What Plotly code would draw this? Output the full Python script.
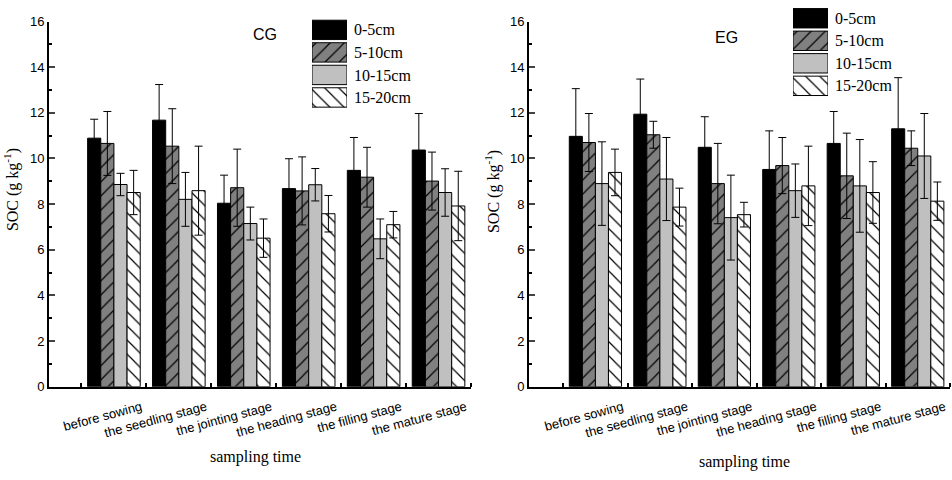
import plotly.graph_objects as go

stages = ["before sowing", "the seedling stage", "the jointing stage",
          "the heading stage", "the filling stage", "the mature stage"]
stage_pos = [1.5, 2.5, 3.5, 4.5, 5.5, 6.5]
depths = ["0-5cm", "5-10cm", "10-15cm", "15-20cm"]

# CG panel: means and errors per depth
cg_0_5 = [10.89, 11.68, 8.04, 8.68, 9.48, 10.37]
cg_5_10 = [10.66, 10.54, 8.72, 8.58, 9.18, 9.01]
cg_10_15 = [8.86, 8.21, 7.15, 8.85, 6.48, 8.51]
cg_15_20 = [8.51, 8.59, 6.51, 7.58, 7.10, 7.92]
cg_err_0_5 = [0.83, 1.56, 1.23, 1.31, 1.44, 1.60]
cg_err_5_10 = [1.40, 1.64, 1.69, 1.49, 1.31, 1.27]
cg_err_10_15 = [0.49, 1.18, 0.72, 0.71, 0.87, 1.04]
cg_err_15_20 = [0.97, 1.95, 0.84, 0.80, 0.58, 1.52]

# EG panel
eg_0_5 = [10.97, 11.94, 10.49, 9.52, 10.66, 11.30]
eg_5_10 = [10.70, 11.04, 8.90, 9.69, 9.24, 10.45]
eg_10_15 = [8.90, 9.10, 7.41, 8.59, 8.80, 10.11]
eg_15_20 = [9.39, 7.87, 7.54, 8.80, 8.51, 8.13]
eg_err_0_5 = [2.09, 1.54, 1.34, 1.69, 1.40, 2.24]
eg_err_5_10 = [1.27, 0.59, 1.76, 1.23, 1.87, 0.76]
eg_err_10_15 = [1.83, 1.82, 1.86, 1.17, 2.03, 1.86]
eg_err_15_20 = [1.02, 0.83, 0.54, 1.74, 1.35, 0.84]

fills = ["#000000", "#808080", "#c0c0c0", "#ffffff"]
shapes = ["", "/", "", "\\"]

# tick labels are right-anchored near the right edge of each group
label_pos = [p + 0.42 for p in stage_pos]

def marker(i):
    return dict(color=fills[i], line=dict(color="black", width=1),
                pattern=dict(shape=shapes[i], fgcolor="black", bgcolor=fills[i],
                             size=10, solidity=0.12, fillmode="replace"))

fig = go.Figure()

panels = [
    ("x", "y", [cg_0_5, cg_5_10, cg_10_15, cg_15_20],
     [cg_err_0_5, cg_err_5_10, cg_err_10_15, cg_err_15_20]),
    ("x2", "y2", [eg_0_5, eg_5_10, eg_10_15, eg_15_20],
     [eg_err_0_5, eg_err_5_10, eg_err_10_15, eg_err_15_20]),
]
for xa, ya, vals, errs in panels:
    for i, d in enumerate(depths):
        fig.add_trace(go.Bar(
            x=stage_pos, y=vals[i], name=d, xaxis=xa, yaxis=ya, showlegend=False,
            marker=marker(i),
            error_y=dict(type="data", array=errs[i], color="black", thickness=1, width=4),
        ))

# legend swatches drawn as bars on small dedicated axes
for xa, ya in [("x3", "y3"), ("x4", "y4")]:
    for i, d in enumerate(depths):
        fig.add_trace(go.Bar(
            x=[1], y=[d], orientation="h", xaxis=xa, yaxis=ya,
            showlegend=False, width=0.86, offset=-0.43, hoverinfo="skip",
            marker=marker(i),
        ))

tickfont = dict(family="Liberation Sans", size=13, color="black")

def xaxis_cfg(domain, rng):
    return dict(domain=domain, range=rng, tickvals=label_pos, ticktext=stages,
                tickangle=-15, ticks="", ticklabelstandoff=6,
                showline=True, linewidth=2, linecolor="black",
                showgrid=False, zeroline=False, tickfont=tickfont,
                minor=dict(tick0=0, dtick=1, ticks="inside", ticklen=4, tickwidth=2,
                           tickcolor="black", showgrid=False))

def yaxis_cfg(anchor):
    return dict(domain=[1 - 392 / 480, 1 - 15 / 480], range=[0, 16], anchor=anchor,
                tickvals=[0, 2, 4, 6, 8, 10, 12, 14, 16], ticks="inside",
                ticklen=6, tickwidth=2, showline=True, linewidth=2, linecolor="black",
                showgrid=False, zeroline=False, tickfont=tickfont,
                minor=dict(dtick=1, ticks="inside", ticklen=3, tickwidth=2,
                           tickcolor="black", showgrid=False))

legfont = dict(family="Liberation Serif", size=16, color="black")

def legend_y(domain, anchor):
    return dict(domain=domain, anchor=anchor, type="category",
                categoryorder="array", categoryarray=depths, range=[3.5, -0.5],
                side="right", showline=False, ticks="", showgrid=False, zeroline=False,
                tickfont=legfont, ticklabelstandoff=6)

def note(text, x, y, size=16, family="Liberation Serif", angle=0):
    return dict(text=text, x=x / 952, y=1 - y / 480, xref="paper", yref="paper",
                xanchor="center", yanchor="middle", textangle=angle, showarrow=False,
                font=dict(family=family, size=size, color="black"))

fig.update_layout(
    width=952, height=480, margin=dict(l=0, r=0, t=0, b=0),
    paper_bgcolor="white", plot_bgcolor="rgba(0,0,0,0)",
    barmode="group", bargap=0.19, bargroupgap=0,
    xaxis=dict(**xaxis_cfg([49 / 952, 471 / 952], [0.5, 7]), anchor="y"),
    yaxis=yaxis_cfg("x"),
    xaxis2=dict(**xaxis_cfg([529 / 952, 950 / 952], [0.47, 7]), anchor="y2"),
    yaxis2=yaxis_cfg("x2"),
    xaxis3=dict(domain=[312 / 952, 347 / 952], range=[0, 1], visible=False, anchor="y3"),
    yaxis3=legend_y([1 - 105 / 480, 1 - 12 / 480], "x3"),
    xaxis4=dict(domain=[793 / 952, 828 / 952], range=[0, 1], visible=False, anchor="y4"),
    yaxis4=legend_y([1 - 93 / 480, 1.0], "x4"),
    annotations=[
        note("CG", 265, 28, family="Liberation Sans"),
        note("EG", 726, 31, family="Liberation Sans"),
        note("SOC (g kg<sup>-1</sup>)", 11, 189, angle=-90),
        note("SOC (g kg<sup>-1</sup>)", 492, 191, angle=-90),
        note("sampling time", 255, 465),
        note("sampling time", 744, 470),
    ],
)

fig.write_html("out.html", config={"displayModeBar": False},
               post_script="document.body.style.margin='0';document.body.style.overflow='hidden';")
